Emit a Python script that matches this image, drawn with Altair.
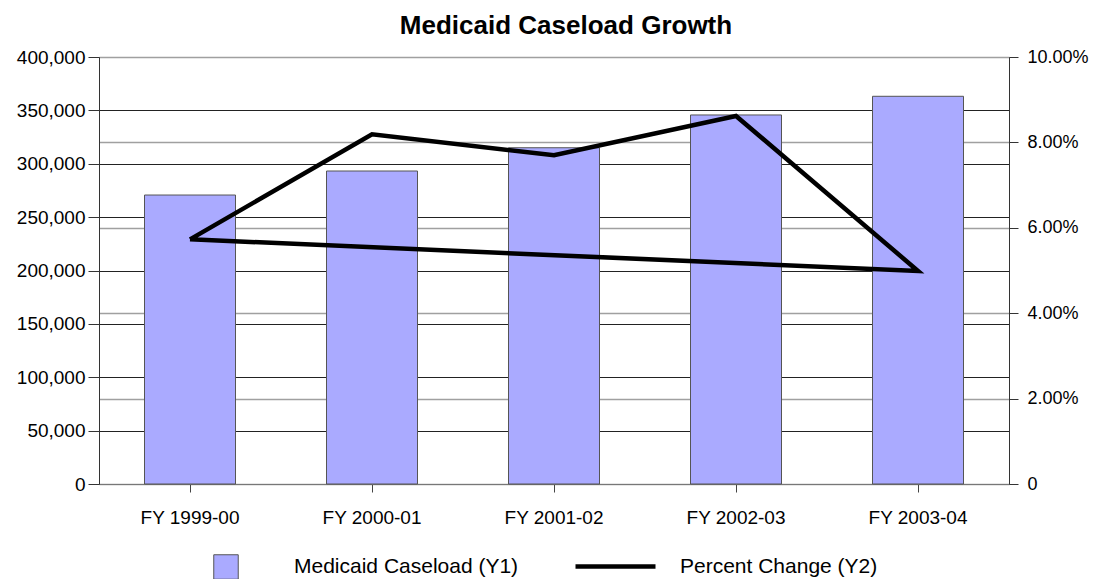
import altair as alt
import pandas as pd

# ---- data ----
years = ["FY 1999-00", "FY 2000-01", "FY 2001-02", "FY 2002-03", "FY 2003-04"]
caseload = [270700, 293200, 315000, 345700, 363200]

# the percent-change line closes back on its first point in the reference
pct_years = ["FY 1999-00", "FY 2000-01", "FY 2001-02", "FY 2002-03", "FY 2003-04", "FY 1999-00"]
pct_values = [5.73, 8.19, 7.70, 8.62, 4.99, 5.73]
pct_order = [1, 2, 3, 4, 5, 6]

left_ticks = [0, 50000, 100000, 150000, 200000, 250000, 300000, 350000, 400000]
right_ticks = [0, 2, 4, 6, 8, 10]

bar_label = "Medicaid Caseload (Y1)"
line_label = "Percent Change (Y2)"

bars_df = pd.DataFrame({"year": years, "caseload": caseload, "series": bar_label})
line_df = pd.DataFrame({"year": pct_years, "pct": pct_values, "ord": pct_order, "series": line_label})

FONT = "Liberation Sans"

x_axis = alt.Axis(title=None, labelAngle=0, tickSize=8, labelPadding=16, labelFontSize=19,
                  domainColor="#777777", tickColor="#444444", grid=False)

bars = alt.Chart(bars_df).mark_bar(stroke="#555555", strokeWidth=1).encode(
    x=alt.X("year:N", sort=years,
            scale=alt.Scale(paddingInner=0.5, paddingOuter=0.25), axis=x_axis),
    y=alt.Y("caseload:Q", scale=alt.Scale(domain=[0, 400000], nice=False),
            axis=alt.Axis(title=None, orient="left", values=left_ticks,
                          labelExpr="format(datum.value, ',')", labelFontSize=19,
                          grid=True, gridColor="#222222", gridWidth=1,
                          tickSize=11, labelPadding=3, domainColor="#333333",
                          tickColor="#333333")),
    fill=alt.Fill("series:N", scale=alt.Scale(domain=[bar_label], range=["#AAAAFF"]),
                  legend=alt.Legend(title=None, orient="none", legendX=114, legendY=497,
                                    symbolType="square", symbolSize=600,
                                    symbolStrokeColor="#555555", symbolStrokeWidth=1,
                                    symbolFillColor="#AAAAFF",
                                    labelOffset=55, labelFontSize=21, labelFont=FONT,
                                    labelColor="black", labelLimit=0, padding=0)),
)

line = alt.Chart(line_df).mark_line(strokeWidth=4.5, strokeJoin="miter").encode(
    x=alt.X("year:N", sort=years, bandPosition=0.5),
    y=alt.Y("pct:Q", scale=alt.Scale(domain=[0, 10], nice=False),
            axis=alt.Axis(title=None, orient="right", values=right_ticks,
                          labelExpr="datum.value == 0 ? '0' : format(datum.value, '.2f') + '%'",
                          labelFontSize=18,
                          grid=True, gridColor="#A0A0A0", gridWidth=1.5,
                          tickSize=9, labelPadding=9, domainColor="#333333",
                          tickColor="#333333")),
    stroke=alt.Stroke("series:N", scale=alt.Scale(domain=[line_label], range=["black"]),
                      legend=alt.Legend(title=None, orient="none", legendX=474, legendY=467,
                                        symbolType="stroke", symbolSize=6400,
                                        symbolStrokeWidth=4.5, symbolStrokeColor="black",
                                        labelOffset=22, labelFontSize=21, labelFont=FONT,
                                        labelColor="black", labelLimit=0, padding=0)),
    order=alt.Order("ord:Q"),
)

chart = alt.layer(bars, line).resolve_scale(
    y="independent", fill="independent", stroke="independent"
).properties(
    width=910, height=427,
    title=alt.TitleParams("Medicaid Caseload Growth", font=FONT, fontSize=26,
                          fontWeight="bold", color="black", anchor="middle",
                          dx=12, offset=9),
    autosize=alt.AutoSizeParams(type="none"),
    padding={"left": 91, "top": 49, "right": 80, "bottom": 95},
).configure_view(stroke=None).configure_axis(
    labelFont=FONT, labelColor="black"
)

chart.save("out.html", embed_options={"renderer": "svg", "actions": False})
